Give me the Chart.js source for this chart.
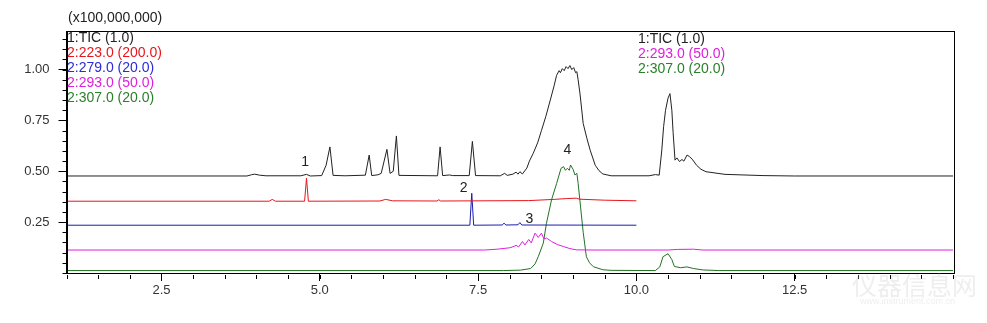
<!DOCTYPE html>
<html>
<head>
<meta charset="utf-8">
<script src="https://cdn.jsdelivr.net/npm/chart.js@4"></script>
<style>
  html, body { margin: 0; padding: 0; background: #fff; }
  #wrap { width: 987px; height: 323px; }
</style>
</head>
<body>
<div id="wrap"><canvas id="myChart" width="987" height="323"></canvas></div>
<script>
// retention time (min) / intensity (x100,000,000)
const ticTrace = [
  [1.0,0.477],[3.85,0.477],[3.92,0.483],[3.97,0.486],[4.05,0.481],[4.15,0.478],[4.7,0.478],
  [4.79,0.485],[4.85,0.477],[5.03,0.479],[5.1,0.53],[5.16,0.62],[5.21,0.48],[5.4,0.478],
  [5.72,0.481],[5.78,0.58],[5.82,0.479],[5.92,0.483],[5.97,0.49],[6.06,0.608],[6.11,0.49],
  [6.16,0.5],[6.21,0.674],[6.25,0.48],[6.86,0.478],[6.9,0.62],[6.94,0.479],[7.05,0.482],
  [7.1,0.479],[7.36,0.479],[7.41,0.647],[7.46,0.479],[7.85,0.478],[7.92,0.49],[7.96,0.48],
  [8.05,0.486],[8.1,0.496],[8.13,0.486],[8.16,0.498],[8.2,0.487],[8.27,0.516],[8.31,0.55],
  [8.37,0.588],[8.44,0.64],[8.5,0.70],[8.57,0.77],[8.64,0.85],[8.7,0.92],[8.74,0.972],
  [8.78,0.995],[8.8,0.985],[8.83,1.005],[8.86,0.995],[8.89,1.015],[8.92,1.005],[8.95,1.02],
  [8.98,1.0],[9.01,1.01],[9.04,0.985],[9.06,0.99],[9.08,0.95],[9.11,0.88],[9.16,0.735],
  [9.22,0.66],[9.27,0.604],[9.35,0.53],[9.41,0.503],[9.47,0.487],[9.6,0.478],[10.2,0.478],
  [10.3,0.484],[10.36,0.481],[10.4,0.6],[10.43,0.72],[10.46,0.8],[10.5,0.86],[10.53,0.882],
  [10.56,0.8],[10.58,0.69],[10.61,0.555],[10.64,0.566],[10.68,0.548],[10.72,0.558],
  [10.75,0.55],[10.8,0.58],[10.84,0.572],[10.88,0.56],[10.95,0.53],[11.02,0.51],[11.1,0.498],
  [11.4,0.485],[12.0,0.479],[12.5,0.477],[15.0,0.477]
];
const ion223Trace = [
  [1.0,0.353],[4.2,0.353],[4.25,0.362],[4.3,0.353],[4.76,0.353],[4.79,0.466],[4.82,0.353],
  [5.95,0.354],[6.04,0.362],[6.15,0.355],[6.85,0.354],[6.88,0.36],[6.91,0.354],[8.3,0.356],
  [8.7,0.362],[8.9,0.366],[9.05,0.368],[9.1,0.363],[9.5,0.358],[10.0,0.355]
];
const ion279Trace = [
  [1.0,0.235],[7.37,0.235],[7.4,0.392],[7.43,0.235],[7.88,0.236],[7.91,0.245],[7.94,0.236],
  [8.13,0.237],[8.16,0.248],[8.19,0.236],[10.0,0.235]
];
const ion293Trace = [
  [1.0,0.113],[7.6,0.113],[7.8,0.117],[8.0,0.124],[8.05,0.129],[8.1,0.136],[8.14,0.128],
  [8.2,0.155],[8.24,0.138],[8.3,0.165],[8.34,0.148],[8.4,0.196],[8.45,0.175],[8.5,0.196],
  [8.54,0.168],[8.58,0.172],[8.66,0.155],[8.75,0.14],[8.85,0.13],[8.95,0.12],[9.05,0.114],
  [9.3,0.113],[10.5,0.113],[10.65,0.116],[10.9,0.117],[11.05,0.113],[15.0,0.113]
];
const ion307Trace = [
  [1.0,0.012],[7.9,0.012],[8.17,0.014],[8.33,0.022],[8.4,0.045],[8.45,0.08],[8.53,0.147],
  [8.58,0.245],[8.66,0.36],[8.74,0.44],[8.81,0.515],[8.85,0.523],[8.88,0.505],[8.91,0.515],
  [8.94,0.505],[8.96,0.531],[9.0,0.51],[9.03,0.482],[9.06,0.49],[9.08,0.441],[9.11,0.35],
  [9.16,0.2],[9.21,0.08],[9.26,0.05],[9.32,0.031],[9.47,0.016],[9.6,0.013],[10.3,0.012],
  [10.37,0.03],[10.42,0.08],[10.5,0.095],[10.56,0.066],[10.6,0.032],[10.7,0.026],[10.8,0.03],
  [10.9,0.022],[11.05,0.015],[11.3,0.012],[15.0,0.012]
];

const xTicks = [2.5, 5.0, 7.5, 10.0, 12.5];
const yTicks = [0.25, 0.50, 0.75, 1.00];

const peakNames = ['1', '2', '3', '4'];
const peakTimes = [4.77, 7.27, 8.31, 8.91];
const peakHeights = [0.547, 0.417, 0.266, 0.604];

const legendLeft = ['1:TIC (1.0)', '2:223.0 (200.0)', '2:279.0 (20.0)', '2:293.0 (50.0)', '2:307.0 (20.0)'];
const legendRight = ['1:TIC (1.0)', '2:293.0 (50.0)', '2:307.0 (20.0)'];

const colors = {
  tic: '#222222', ion223: '#e8161b', ion279: '#1c1cb0', ion293: '#e01ee0', ion307: '#237323'
};
const textColors = ['#222222', '#e8161b', '#2b2bd9', '#e01ee0', '#2a7f2a'];
const textColorsRight = ['#222222', '#e01ee0', '#2a7f2a'];

const FONT = '"Liberation Sans", Arial, sans-serif';

function toPoints(arr) {
  return arr.map(p => ({ x: p[0], y: p[1] }));
}

function trace(data, color) {
  return {
    data: toPoints(data),
    borderColor: color,
    borderWidth: 1,
    pointRadius: 0,
    fill: false,
    tension: 0
  };
}

const decor = {
  id: 'decor',
  afterDraw(chart) {
    const { ctx, chartArea: a, scales: { x, y } } = chart;
    ctx.save();
    ctx.strokeStyle = '#000';
    ctx.lineWidth = 1;
    ctx.strokeRect(Math.round(a.left) + 0.5, Math.round(a.top) + 0.5,
      Math.round(a.right - a.left), Math.round(a.bottom - a.top));

    // minor ticks
    ctx.beginPath();
    for (let i = 0; i <= 28; i++) {
      const px = Math.round(x.getPixelForValue(1 + i * 0.5)) + 0.5;
      ctx.moveTo(px, a.bottom + 2);
      ctx.lineTo(px, a.bottom + 6);
    }
    for (let i = 0; i <= 23; i++) {
      const py = Math.round(y.getPixelForValue(i * 0.05)) + 0.5;
      ctx.moveTo(a.left - 4, py);
      ctx.lineTo(a.left, py);
    }
    ctx.stroke();

    ctx.font = '14px ' + FONT;
    ctx.textBaseline = 'alphabetic';
    ctx.textAlign = 'left';
    ctx.fillStyle = '#222';
    ctx.fillText('(x100,000,000)', 68, 22);

    legendLeft.forEach((t, i) => {
      ctx.fillStyle = textColors[i];
      ctx.fillText(t, 67, 41.5 + i * 15);
    });
    legendRight.forEach((t, i) => {
      ctx.fillStyle = textColorsRight[i];
      ctx.fillText(t, 638, 43 + i * 15);
    });

    ctx.font = '14px ' + FONT;
    ctx.textAlign = 'center';
    ctx.textBaseline = 'middle';
    ctx.fillStyle = '#222';
    peakNames.forEach((n, i) => {
      ctx.fillText(n, x.getPixelForValue(peakTimes[i]), y.getPixelForValue(peakHeights[i]));
    });

    // faint site watermark
    ctx.fillStyle = 'rgba(200,200,200,0.3)';
    ctx.textAlign = 'left';
    ctx.font = '25px "Noto Sans CJK SC"';
    ctx.fillText('仪器信息网', 852, 285);
    ctx.font = '9px ' + FONT;
    ctx.fillText('www.instrument.com.cn', 860, 302);
    ctx.restore();
  }
};

const config = {
  type: 'line',
  data: {
    datasets: [
      trace(ticTrace, colors.tic),
      trace(ion223Trace, colors.ion223),
      trace(ion279Trace, colors.ion279),
      trace(ion293Trace, colors.ion293),
      trace(ion307Trace, colors.ion307)
    ]
  },
  options: {
    responsive: false,
    animation: false,
    layout: { padding: { top: 31, right: 34, bottom: 0, left: 0 } },
    plugins: { legend: { display: false }, tooltip: { enabled: false } },
    scales: {
      x: {
        type: 'linear',
        min: 1,
        max: 15,
        afterFit: s => { s.height = 50; },
        afterBuildTicks: s => { s.ticks = xTicks.map(v => ({ value: v })); },
        grid: { drawOnChartArea: false, tickLength: 8, tickColor: '#000' },
        border: { color: '#000' },
        ticks: {
          color: '#333',
          font: { family: FONT, size: 13 },
          padding: 2,
          maxRotation: 0,
          callback: v => v.toFixed(1)
        }
      },
      y: {
        min: 0,
        max: 1.19,
        afterFit: s => { s.width = 66.5; },
        afterBuildTicks: s => { s.ticks = yTicks.map(v => ({ value: v })); },
        grid: { drawOnChartArea: false, tickLength: 8, tickColor: '#000' },
        border: { color: '#000' },
        ticks: {
          color: '#333',
          font: { family: FONT, size: 13 },
          padding: 9,
          callback: v => v.toFixed(2)
        }
      }
    }
  },
  plugins: [decor]
};

document.addEventListener('DOMContentLoaded', () => {
  const myChart = new Chart(document.getElementById('myChart'), config);
});
</script>
</body>
</html>
